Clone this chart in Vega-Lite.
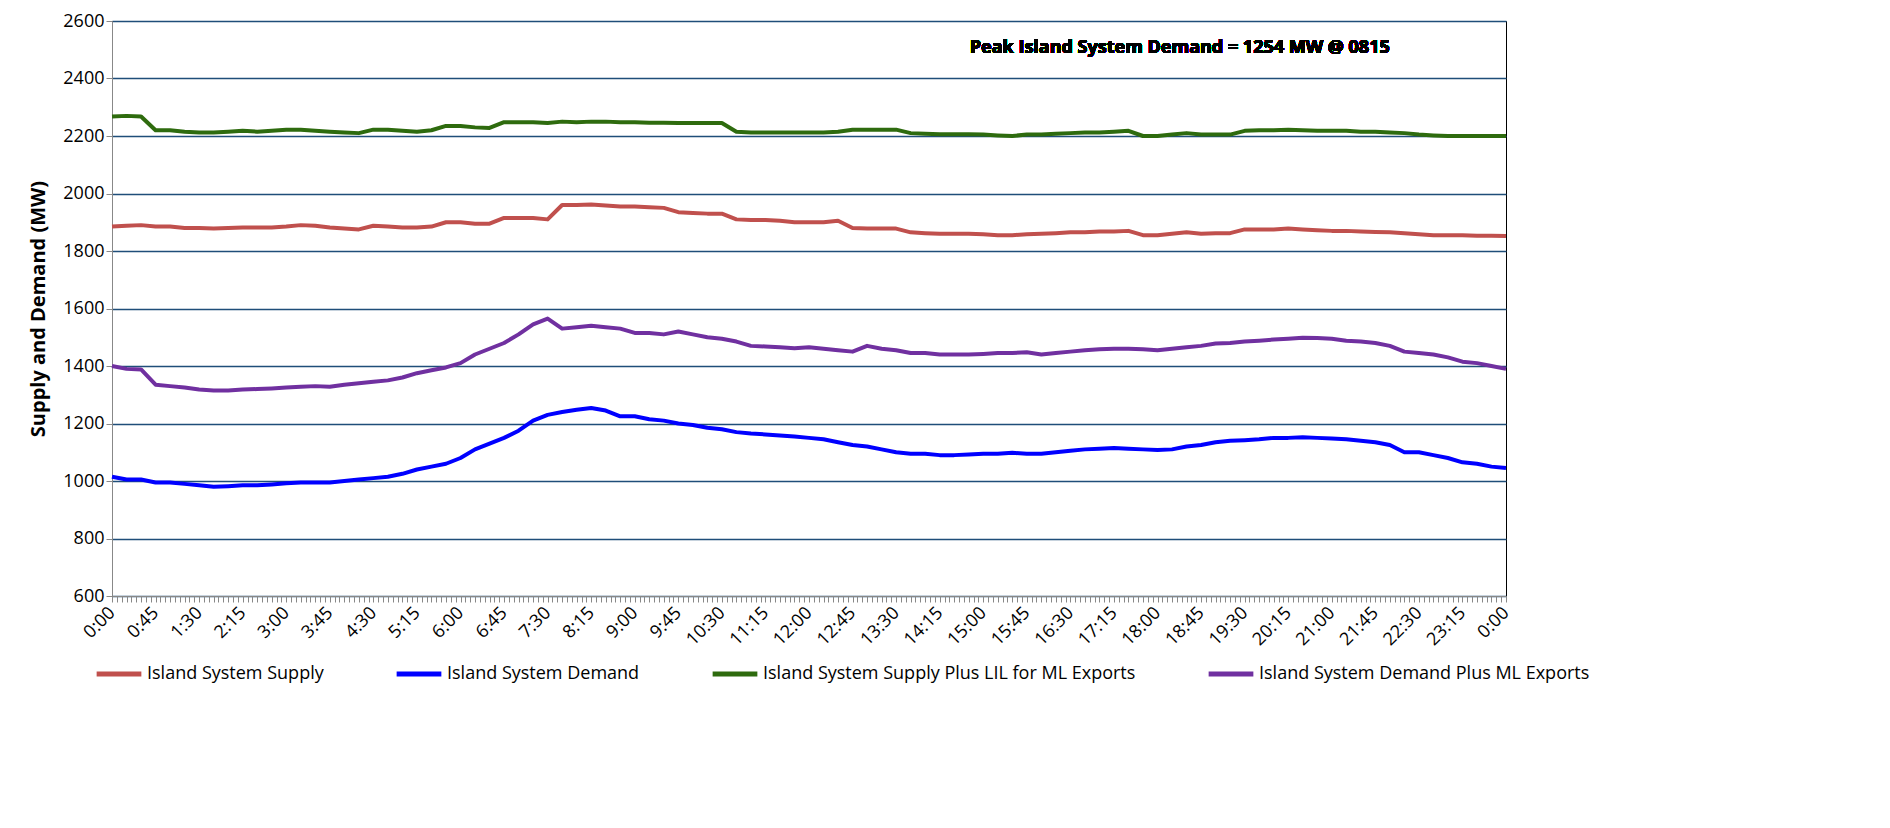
{
"$schema":"https://vega.github.io/schema/vega-lite/v6.json",
"width":1394,"height":575,
"autosize":"none",
"padding":{"left":112,"top":21,"right":384,"bottom":232},
"background":"white",
"config":{"font":"Open Sans","view":{"stroke":"#000","strokeWidth":1}},
"data":{"values":[
{"m":0,"s":1885,"d":1015,"g":2268,"p":1400},
{"m":15,"s":1888,"d":1005,"g":2270,"p":1390},
{"m":30,"s":1890,"d":1005,"g":2268,"p":1388},
{"m":45,"s":1885,"d":995,"g":2220,"p":1335},
{"m":60,"s":1885,"d":995,"g":2220,"p":1330},
{"m":75,"s":1880,"d":990,"g":2215,"p":1325},
{"m":90,"s":1880,"d":985,"g":2212,"p":1318},
{"m":105,"s":1878,"d":980,"g":2212,"p":1315},
{"m":120,"s":1880,"d":982,"g":2215,"p":1315},
{"m":135,"s":1882,"d":985,"g":2218,"p":1318},
{"m":150,"s":1882,"d":985,"g":2215,"p":1320},
{"m":165,"s":1882,"d":988,"g":2218,"p":1322},
{"m":180,"s":1885,"d":992,"g":2222,"p":1325},
{"m":195,"s":1890,"d":995,"g":2222,"p":1328},
{"m":210,"s":1888,"d":995,"g":2218,"p":1330},
{"m":225,"s":1882,"d":995,"g":2215,"p":1328},
{"m":240,"s":1878,"d":1000,"g":2212,"p":1335},
{"m":255,"s":1875,"d":1005,"g":2210,"p":1340},
{"m":270,"s":1888,"d":1010,"g":2222,"p":1345},
{"m":285,"s":1885,"d":1015,"g":2222,"p":1350},
{"m":300,"s":1882,"d":1025,"g":2218,"p":1360},
{"m":315,"s":1882,"d":1040,"g":2215,"p":1375},
{"m":330,"s":1885,"d":1050,"g":2220,"p":1385},
{"m":345,"s":1900,"d":1060,"g":2235,"p":1395},
{"m":360,"s":1900,"d":1080,"g":2235,"p":1410},
{"m":375,"s":1895,"d":1110,"g":2230,"p":1440},
{"m":390,"s":1895,"d":1130,"g":2228,"p":1460},
{"m":405,"s":1915,"d":1150,"g":2248,"p":1480},
{"m":420,"s":1915,"d":1175,"g":2248,"p":1510},
{"m":435,"s":1915,"d":1210,"g":2248,"p":1545},
{"m":450,"s":1910,"d":1230,"g":2245,"p":1565},
{"m":465,"s":1960,"d":1240,"g":2250,"p":1530},
{"m":480,"s":1960,"d":1248,"g":2248,"p":1535},
{"m":495,"s":1962,"d":1254,"g":2250,"p":1540},
{"m":510,"s":1958,"d":1245,"g":2250,"p":1535},
{"m":525,"s":1955,"d":1225,"g":2248,"p":1530},
{"m":540,"s":1955,"d":1225,"g":2248,"p":1515},
{"m":555,"s":1952,"d":1215,"g":2246,"p":1515},
{"m":570,"s":1950,"d":1210,"g":2246,"p":1510},
{"m":585,"s":1935,"d":1200,"g":2245,"p":1520},
{"m":600,"s":1932,"d":1195,"g":2245,"p":1510},
{"m":615,"s":1930,"d":1185,"g":2245,"p":1500},
{"m":630,"s":1930,"d":1180,"g":2245,"p":1495},
{"m":645,"s":1910,"d":1170,"g":2215,"p":1485},
{"m":660,"s":1908,"d":1165,"g":2212,"p":1470},
{"m":675,"s":1908,"d":1162,"g":2212,"p":1468},
{"m":690,"s":1905,"d":1158,"g":2212,"p":1465},
{"m":705,"s":1900,"d":1155,"g":2212,"p":1462},
{"m":720,"s":1900,"d":1150,"g":2212,"p":1465},
{"m":735,"s":1900,"d":1145,"g":2212,"p":1460},
{"m":750,"s":1905,"d":1135,"g":2215,"p":1455},
{"m":765,"s":1880,"d":1125,"g":2222,"p":1450},
{"m":780,"s":1878,"d":1120,"g":2222,"p":1470},
{"m":795,"s":1878,"d":1110,"g":2222,"p":1460},
{"m":810,"s":1878,"d":1100,"g":2222,"p":1455},
{"m":825,"s":1865,"d":1095,"g":2210,"p":1445},
{"m":840,"s":1862,"d":1095,"g":2208,"p":1445},
{"m":855,"s":1860,"d":1090,"g":2206,"p":1440},
{"m":870,"s":1860,"d":1090,"g":2206,"p":1440},
{"m":885,"s":1860,"d":1092,"g":2206,"p":1440},
{"m":900,"s":1858,"d":1095,"g":2205,"p":1442},
{"m":915,"s":1855,"d":1095,"g":2202,"p":1445},
{"m":930,"s":1855,"d":1098,"g":2200,"p":1445},
{"m":945,"s":1858,"d":1095,"g":2205,"p":1448},
{"m":960,"s":1860,"d":1095,"g":2205,"p":1440},
{"m":975,"s":1862,"d":1100,"g":2208,"p":1445},
{"m":990,"s":1865,"d":1105,"g":2210,"p":1450},
{"m":1005,"s":1865,"d":1110,"g":2212,"p":1455},
{"m":1020,"s":1868,"d":1112,"g":2212,"p":1458},
{"m":1035,"s":1868,"d":1115,"g":2215,"p":1460},
{"m":1050,"s":1870,"d":1112,"g":2218,"p":1460},
{"m":1065,"s":1855,"d":1110,"g":2200,"p":1458},
{"m":1080,"s":1855,"d":1108,"g":2200,"p":1455},
{"m":1095,"s":1860,"d":1110,"g":2205,"p":1460},
{"m":1110,"s":1865,"d":1120,"g":2210,"p":1465},
{"m":1125,"s":1860,"d":1125,"g":2205,"p":1470},
{"m":1140,"s":1862,"d":1135,"g":2205,"p":1478},
{"m":1155,"s":1862,"d":1140,"g":2205,"p":1480},
{"m":1170,"s":1875,"d":1142,"g":2218,"p":1485},
{"m":1185,"s":1875,"d":1145,"g":2220,"p":1488},
{"m":1200,"s":1875,"d":1150,"g":2220,"p":1492},
{"m":1215,"s":1878,"d":1150,"g":2222,"p":1495},
{"m":1230,"s":1875,"d":1152,"g":2220,"p":1498},
{"m":1245,"s":1872,"d":1150,"g":2218,"p":1497},
{"m":1260,"s":1870,"d":1148,"g":2218,"p":1495},
{"m":1275,"s":1870,"d":1145,"g":2218,"p":1488},
{"m":1290,"s":1868,"d":1140,"g":2215,"p":1485},
{"m":1305,"s":1866,"d":1135,"g":2215,"p":1480},
{"m":1320,"s":1865,"d":1125,"g":2212,"p":1470},
{"m":1335,"s":1862,"d":1100,"g":2210,"p":1450},
{"m":1350,"s":1858,"d":1100,"g":2205,"p":1445},
{"m":1365,"s":1855,"d":1090,"g":2202,"p":1440},
{"m":1380,"s":1855,"d":1080,"g":2200,"p":1430},
{"m":1395,"s":1855,"d":1065,"g":2200,"p":1415},
{"m":1410,"s":1853,"d":1060,"g":2200,"p":1410},
{"m":1425,"s":1853,"d":1050,"g":2200,"p":1400},
{"m":1440,"s":1852,"d":1045,"g":2200,"p":1390}
]},
"layer":[
{"transform":[
 {"fold":["s","d","g","p"],"as":["k","v"]},
 {"lookup":"k","from":{"data":{"values":[
   {"k":"s","series":"Island System Supply"},
   {"k":"d","series":"Island System Demand"},
   {"k":"g","series":"Island System Supply Plus LIL for ML Exports"},
   {"k":"p","series":"Island System Demand Plus ML Exports"}]},"key":"k","fields":["series"]}}
 ],
 "mark":{"type":"line","strokeWidth":4,"strokeJoin":"round"},
 "encoding":{
  "x":{"field":"m","type":"quantitative","scale":{"domain":[0,1440],"nice":false},
   "axis":{"title":null,"grid":false,"tickCount":288,"labelOverlap":false,"labelAngle":-45,"labelAlign":"right","labelBaseline":"middle","labelFontSize":18,"labelColor":"#000","domainColor":"#888","tickColor":"#888","tickSize":6,"labelPadding":8,
    "labelExpr":"datum.value % 45 == 0 ? (floor(datum.value/60)%24) + ':' + (datum.value%60 < 10 ? '0' : '') + (datum.value%60) : ''"}},
  "y":{"field":"v","type":"quantitative","scale":{"domain":[600,2600],"nice":false},
   "axis":{"title":"Supply and Demand (MW)","format":"d","titleFontSize":20,"titleFontWeight":"bold","titleColor":"#000","titlePadding":14,"values":[600,800,1000,1200,1400,1600,1800,2000,2200,2400,2600],"labelFontSize":18,"labelColor":"#000","gridColor":"#1F4E79","gridWidth":1.5,"domainColor":"#888","tickColor":"#888","tickSize":6}},
  "color":{"field":"series","type":"nominal",
   "scale":{"domain":["Island System Supply","Island System Demand","Island System Supply Plus LIL for ML Exports","Island System Demand Plus ML Exports"],"range":["#C0504D","#0000FF","#2E6B0E","#7030A0"]},
   "legend":{"title":null,"orient":"none","direction":"horizontal","legendX":-18,"legendY":628,"symbolType":"stroke","symbolSize":2000,"symbolStrokeWidth":5,"labelFontSize":18,"labelColor":"#000","labelLimit":500,"columnPadding":62,"labelOffset":3}}
 }},
{"mark":{"type":"text","fontSize":18,"fontWeight":"bold","color":"#000"},
 "encoding":{"x":{"datum":1103,"type":"quantitative"},"y":{"datum":2505,"type":"quantitative"},"text":{"value":"Peak Island System Demand = 1254 MW @ 0815"}}}
]
}
